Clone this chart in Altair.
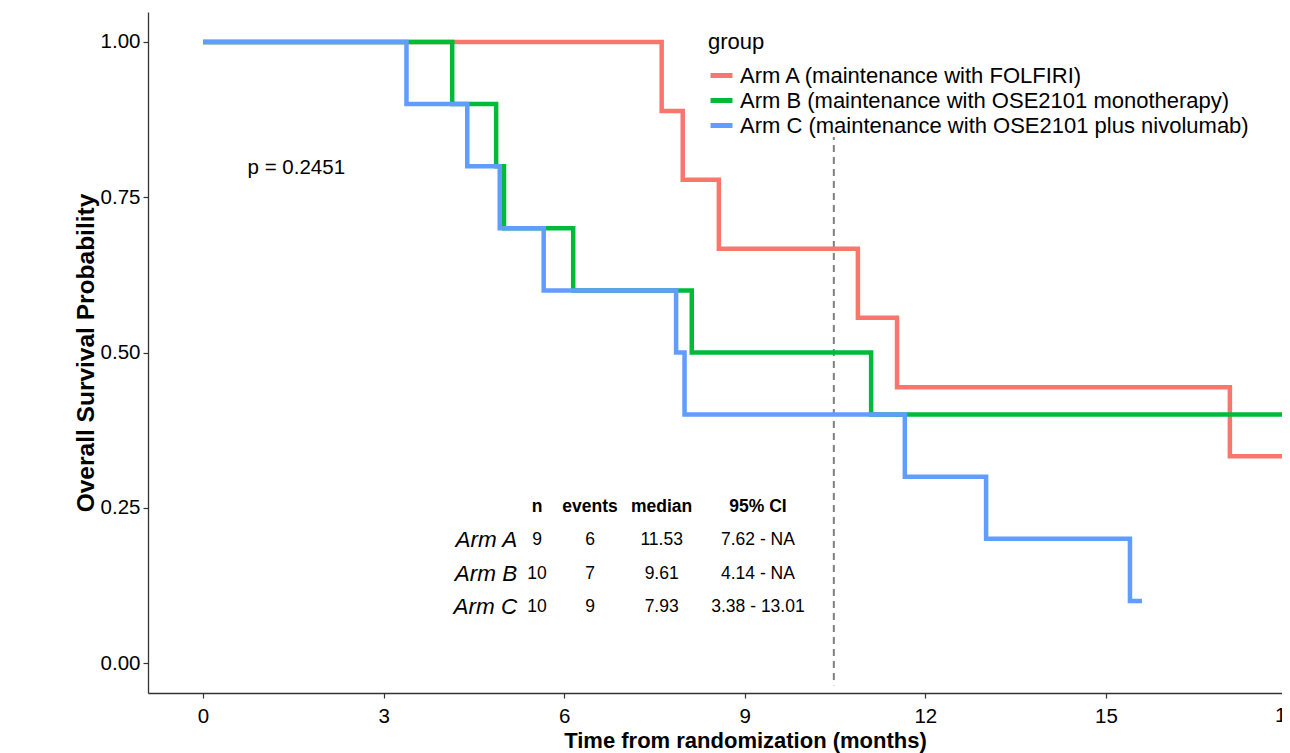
import altair as alt
import pandas as pd

# ---------------- data ----------------
arms = [
    "Arm A (maintenance with FOLFIRI)",
    "Arm B (maintenance with OSE2101 monotherapy)",
    "Arm C (maintenance with OSE2101 plus nivolumab)",
]
colors = ["#F8766D", "#00BA38", "#619CFF"]

armA_time = [0, 7.62, 7.97, 8.57, 10.88, 11.53, 17.06, 18.6]
armA_surv = [1.0, 0.889, 0.778, 0.667, 0.556, 0.444, 0.333, 0.333]
armB_time = [0, 4.14, 4.87, 5.00, 6.15, 8.12, 11.10, 18.6]
armB_surv = [1.0, 0.9, 0.8, 0.7, 0.6, 0.5, 0.4, 0.4]
armC_time = [0, 3.38, 4.39, 4.93, 5.66, 7.86, 8.00, 11.66, 13.01, 15.40, 15.60]
armC_surv = [1.0, 0.9, 0.8, 0.7, 0.6, 0.5, 0.4, 0.3, 0.2, 0.1, 0.1]

median_line = 10.48
p_value_text = "p = 0.2451"

table_arms = ["Arm A", "Arm B", "Arm C"]
table_n = ["9", "10", "10"]
table_events = ["6", "7", "9"]
table_median = ["11.53", "9.61", "7.93"]
table_ci = ["7.62 - NA", "4.14 - NA", "3.38 - 13.01"]
table_header = ["n", "events", "median", "95% CI"]

x_ticks = [0, 3, 6, 9, 12, 15, 18]
y_ticks = [0, 0.25, 0.5, 0.75, 1.0]

# ---------------- layout constants ----------------
FONT = "Liberation Sans"
X_DOMAIN = [-0.914, 17.926]
Y_DOMAIN = [-0.0483, 1.0483]
col_x = {"arm": 5.22, "n": 5.55, "events": 6.43, "median": 7.62, "ci": 9.22}
row_y = [0.198, 0.143, 0.090]
header_y = 0.251
vline_top = 0.95
vline_bottom = -0.036

# ---------------- frames ----------------
rows = []
for arm, t, s in [(arms[0], armA_time, armA_surv),
                  (arms[1], armB_time, armB_surv),
                  (arms[2], armC_time, armC_surv)]:
    for ti, si in zip(t, s):
        rows.append({"group": arm, "time": ti, "surv": si})
km = pd.DataFrame(rows)

cells = []
for i in range(3):
    cells.append({"x": col_x["n"], "y": row_y[i], "t": table_n[i]})
    cells.append({"x": col_x["events"], "y": row_y[i], "t": table_events[i]})
    cells.append({"x": col_x["median"], "y": row_y[i], "t": table_median[i]})
    cells.append({"x": col_x["ci"], "y": row_y[i], "t": table_ci[i]})
cells_df = pd.DataFrame(cells)
header_df = pd.DataFrame({
    "x": [col_x["n"], col_x["events"], col_x["median"], col_x["ci"]],
    "y": [header_y] * 4,
    "t": table_header,
})
arm_df = pd.DataFrame({"x": [col_x["arm"]] * 3, "y": row_y, "t": table_arms})
# tick labels lying beyond the visible domain (the reference crops the last one)
edge_ticks = pd.DataFrame({"x": [v for v in x_ticks if v > X_DOMAIN[1]]})
edge_ticks["t"] = edge_ticks["x"].astype(int).astype(str)

xscale = alt.Scale(domain=X_DOMAIN, nice=False, zero=False)
yscale = alt.Scale(domain=Y_DOMAIN, nice=False, zero=False)

x_axis = alt.Axis(values=x_ticks, format="d", title="Time from randomization (months)",
                  grid=False, labelFontSize=20.5, titleFontSize=22, titleFontWeight="bold",
                  tickSize=5, labelPadding=8, titleX=597, titleY=54,
                  titleBaseline="alphabetic")
y_axis = alt.Axis(values=y_ticks, format=".2f", title="Overall Survival Probability",
                  grid=False, labelFontSize=20.5, titleFontSize=24.5, titleFontWeight="bold",
                  tickSize=5, labelPadding=3, titlePadding=2)

lines = alt.Chart(km).mark_line(interpolate="step-after", strokeWidth=4.5, clip=True).encode(
    x=alt.X("time:Q", scale=xscale, axis=x_axis),
    y=alt.Y("surv:Q", scale=yscale, axis=y_axis),
    color=alt.Color("group:N", scale=alt.Scale(domain=arms, range=colors),
                    legend=alt.Legend(title="group", orient="none", legendX=560, legendY=20,
                                      symbolType="stroke", symbolStrokeWidth=5, symbolSize=484,
                                      labelFontSize=22, titleFontSize=22, titleFontWeight="normal",
                                      titlePadding=8, rowPadding=-2.5, labelOffset=5, padding=0,
                                      fillColor="white", labelLimit=800)),
    order=alt.Order("time:Q"),
)

vline = alt.Chart(pd.DataFrame({"x": [median_line], "y": [vline_top], "y2": [vline_bottom]})).mark_rule(
    color="#808080", strokeWidth=2, strokeDash=[7, 5]
).encode(x=alt.X("x:Q", scale=xscale), y=alt.Y("y:Q", scale=yscale), y2="y2:Q")

ptext = alt.Chart(pd.DataFrame({"x": [1.55], "y": [0.797], "t": [p_value_text]})).mark_text(
    fontSize=20.5, align="center", baseline="middle", color="black"
).encode(x=alt.X("x:Q", scale=xscale), y=alt.Y("y:Q", scale=yscale), text="t:N")

cells_txt = alt.Chart(cells_df).mark_text(
    fontSize=17.5, align="center", baseline="middle", color="black"
).encode(x=alt.X("x:Q", scale=xscale), y=alt.Y("y:Q", scale=yscale), text="t:N")

header_txt = alt.Chart(header_df).mark_text(
    fontSize=17.5, fontWeight="bold", align="center", baseline="middle", color="black"
).encode(x=alt.X("x:Q", scale=xscale), y=alt.Y("y:Q", scale=yscale), text="t:N")

arm_txt = alt.Chart(arm_df).mark_text(
    fontSize=22.5, fontStyle="italic", align="right", baseline="middle", color="black"
).encode(x=alt.X("x:Q", scale=xscale), y=alt.Y("y:Q", scale=yscale), text="t:N")

edge_txt = alt.Chart(edge_ticks).mark_text(
    fontSize=20.5, align="center", baseline="top", color="black", dy=0
).encode(x=alt.X("x:Q", scale=xscale), y=alt.value(694), text="t:N")

chart = alt.layer(vline, lines, ptext, header_txt, cells_txt, arm_txt, edge_txt).properties(
    width=1134, height=681,
    autosize=alt.AutoSizeParams(type="none"),
    padding={"left": 140, "top": 4, "right": 0, "bottom": 60},
).configure(font=FONT).configure_view(stroke=None).configure_axis(
    domainColor="#333333", domainWidth=1.3, tickColor="#333333", tickWidth=1.2,
    labelColor="black", titleColor="black", labelFont=FONT, titleFont=FONT
).configure_legend(labelFont=FONT, titleFont=FONT, labelColor="black", titleColor="black")

chart.save("out.html", embed_options={"renderer": "svg", "actions": False})
